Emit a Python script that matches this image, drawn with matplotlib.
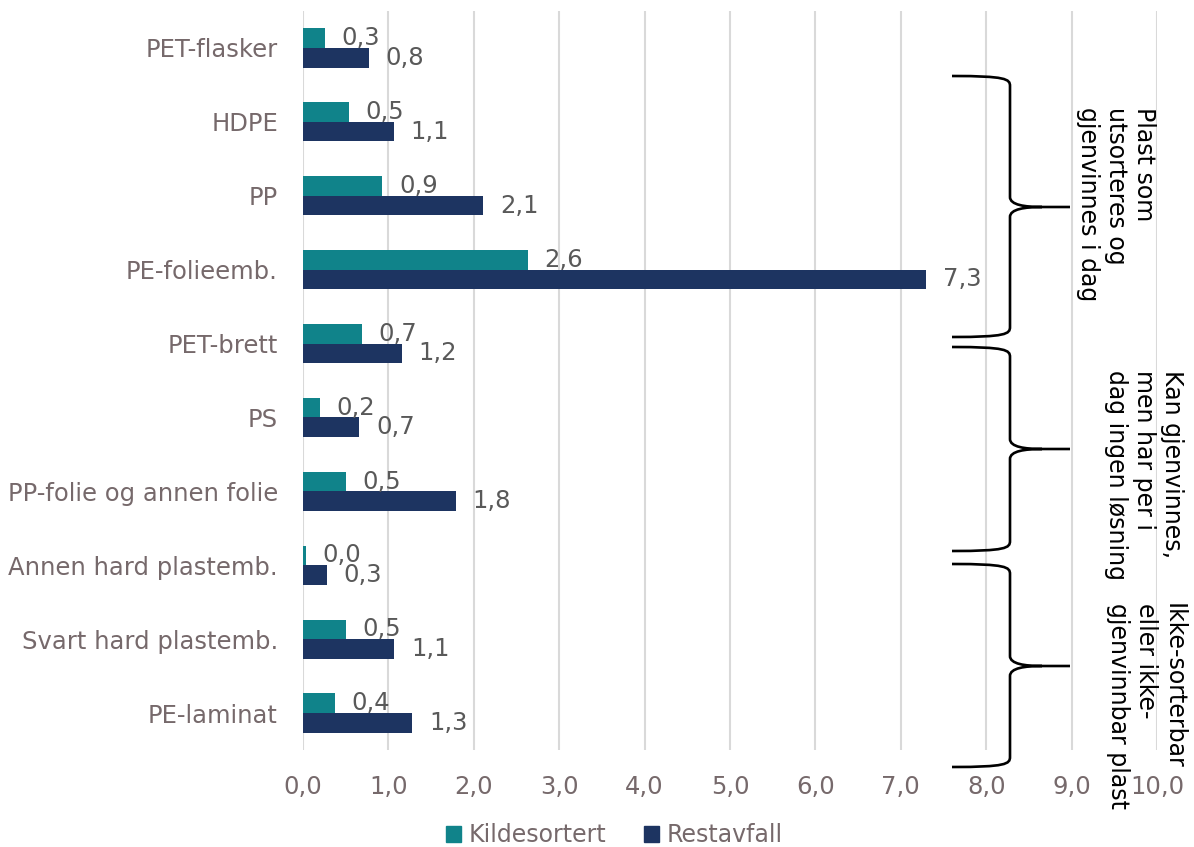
import matplotlib.pyplot as plt
import numpy as np
from matplotlib.path import Path
from matplotlib.patches import PathPatch, Patch

categories = ['PET-flasker', 'HDPE', 'PP', 'PE-folieemb.', 'PET-brett', 'PS',
              'PP-folie og annen folie', 'Annen hard plastemb.',
              'Svart hard plastemb.', 'PE-laminat']
kildesortert = [0.26, 0.54, 0.93, 2.63, 0.69, 0.20, 0.50, 0.03, 0.50, 0.37]
restavfall = [0.77, 1.06, 2.11, 7.30, 1.16, 0.66, 1.79, 0.28, 1.07, 1.28]
xticks = np.arange(0, 11, 1)

groups = ['Plast som\nutsorteres og\ngjenvinnes i dag',
          'Kan gjenvinnes,\nmen har per i\ndag ingen løsning',
          'Ikke-sorterbar\neller ikke-\ngjenvinnbar plast']

teal = '#10838a'
navy = '#1d3461'
grey = '#76696b'
label_col = '#595959'

plt.rcParams['font.family'] = 'DejaVu Sans'
fig = plt.figure(figsize=(11.94, 8.47), dpi=100)
W, H = 1194, 847
ax = fig.add_axes([303 / W, 1 - 750 / H, (1157 - 303) / W, (750 - 11) / H])

y = np.arange(len(categories))
h = 0.265
b1 = ax.barh(y - h / 2, kildesortert, height=h, color=teal, label='Kildesortert')
b2 = ax.barh(y + h / 2, restavfall, height=h, color=navy, label='Restavfall')
fmt = lambda v: f'{v:.1f}'.replace('.', ',')
ax.bar_label(b1, labels=[fmt(v) for v in kildesortert], padding=12,
             fontsize=17.5, color=label_col)
ax.bar_label(b2, labels=[fmt(v) for v in restavfall], padding=12,
             fontsize=17.5, color=label_col)

ax.set_ylim(len(categories) - 0.5, -0.5)
ax.set_xlim(0, 10)
ax.set_yticks(y)
ax.set_yticklabels(categories)
ax.set_xticks(xticks)
ax.set_xticklabels([fmt(v) for v in xticks])
ax.tick_params(length=0, labelsize=17.5, labelcolor=grey)
ax.tick_params(axis='y', pad=18)
ax.tick_params(axis='x', pad=18)
ax.grid(axis='x', color='#d9d9d9', linewidth=1.5)
ax.set_axisbelow(True)
for s in ax.spines.values():
    s.set_visible(False)

fig.legend(handles=[Patch(color=teal, label='Kildesortert'),
                    Patch(color=navy, label='Restavfall')],
           loc='center', bbox_to_anchor=(614 / W, 1 - 835 / H), ncol=2,
           frameon=False, fontsize=17, labelcolor=grey,
           handlelength=0.65, handleheight=0.65, handletextpad=0.3,
           columnspacing=1.6)


def px(xp, yp):
    return (xp / W, 1 - yp / H)


def brace(top, tip, bottom, x0=952, x1=1010, x2=1070):
    # curly bracket drawn in figure pixels: upper half, then lower half
    pts = [(x0, top), (x1 - 4, top), (x1, top + 3), (x1, top + 10),
           (x1, tip - 10),
           (x1, tip - 2), (x1 + 15, tip), (x1 + 32, tip),
           (x2, tip),
           (x1 + 32, tip), (x1 + 15, tip), (x1, tip + 2), (x1, tip + 10),
           (x1, bottom - 10),
           (x1, bottom - 3), (x1 - 4, bottom), (x0, bottom)]
    codes = ([Path.MOVETO] + [Path.CURVE4] * 3 + [Path.LINETO]
             + [Path.CURVE4] * 3 + [Path.LINETO]
             + [Path.MOVETO] + [Path.CURVE4] * 3 + [Path.LINETO]
             + [Path.CURVE4] * 3)
    path = Path([px(a, b) for a, b in pts], codes)
    fig.add_artist(PathPatch(path, transform=fig.transFigure, fill=False,
                             edgecolor='black', linewidth=1.9))


brace(76, 207, 337)
brace(347, 449, 551)
brace(564, 666, 767)

for text, (xc, yt) in zip(groups, [(1116, 107), (1144, 370), (1146, 603)]):
    fig.text(*px(xc, yt), text, rotation=270, ha='center', va='top',
             multialignment='left', fontsize=17, color='black')

fig.savefig('out.png', dpi=100)
